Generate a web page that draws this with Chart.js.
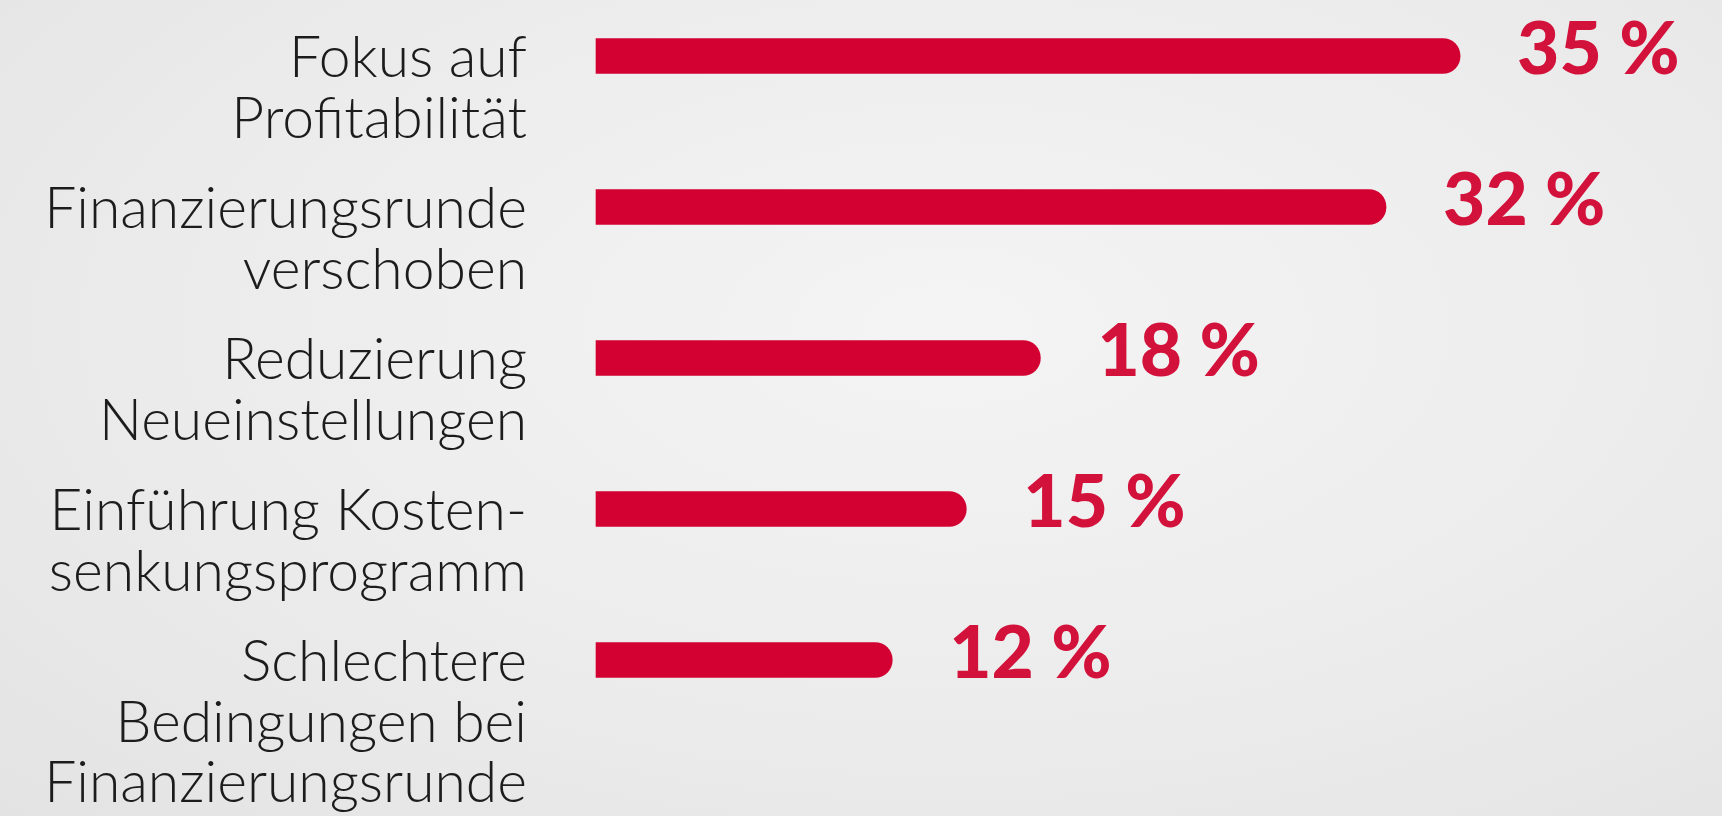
<!DOCTYPE html>
<html>
<head>
<meta charset="utf-8">
<script src="https://cdn.jsdelivr.net/npm/chart.js@4.4.0/dist/chart.umd.min.js"></script>
<style>
  html, body { margin: 0; padding: 0; }
  body {
    width: 1722px; height: 816px; overflow: hidden;
    background: radial-gradient(ellipse at 55% 40%, #f4f4f4 0%, #ececec 55%, #e3e3e3 100%);
  }
  #wrap { position: relative; width: 1722px; height: 816px; }
</style>
</head>
<body>
<div id="wrap"><canvas id="chart"></canvas></div>
<script>
// categories (one entry per line of the label)
const categories = [
  ["Fokus auf", "Profitabilität"],
  ["Finanzierungsrunde", "verschoben"],
  ["Reduzierung", "Neueinstellungen"],
  ["Einführung Kosten-", "senkungsprogramm"],
  ["Schlechtere", "Bedingungen bei", "Finanzierungsrunde"]
];
const values = [35, 32, 18, 15, 12];
const valueLabels = ["35 %", "32 %", "18 %", "15 %", "12 %"];

const red = "#d30032";

// writes "35 %" etc. to the right of each bar
const valueLabelPlugin = {
  id: "valueLabels",
  afterDatasetsDraw(chart) {
    const ctx = chart.ctx;
    const meta = chart.getDatasetMeta(0);
    ctx.save();
    ctx.fillStyle = "#d3123c";
    ctx.font = "900 73px Lato";
    ctx.textAlign = "left";
    ctx.textBaseline = "alphabetic";
    meta.data.forEach((bar, i) => {
      ctx.fillText(valueLabels[i], bar.x + 57, bar.y + 18);
    });
    ctx.restore();
  }
};

const ctx = document.getElementById("chart").getContext("2d");
new Chart(ctx, {
  type: "bar",
  data: {
    labels: categories,
    datasets: [{
      data: values,
      backgroundColor: red,
      barThickness: 35,
      borderRadius: 17.5,
      borderSkipped: "start",
      clip: false
    }]
  },
  options: {
    indexAxis: "y",
    responsive: true,
    maintainAspectRatio: false,
    animation: false,
    layout: { padding: { top: 56, bottom: 156, left: 0, right: 15 } },
    plugins: {
      legend: { display: false },
      tooltip: { enabled: false }
    },
    scales: {
      x: { display: false, min: 0, max: 45 },
      y: {
        offset: false,
        grid: { display: false, drawTicks: false },
        border: { display: false },
        ticks: {
          autoSkip: false,
          padding: 69,
          labelOffset: 3,
          color: "#1c1c1c",
          font: { family: "Lato", weight: 300, size: 57, lineHeight: 1.06 },
          // pad with empty lines so the first line sits on the bar
          callback: function (value, index) {
            const lines = categories[index];
            return Array(lines.length - 1).fill("").concat(lines);
          }
        },
        afterFit: function (scale) {
          scale.width = 596;
          scale.paddingTop = 0;
          scale.paddingBottom = 0;
        }
      }
    }
  },
  plugins: [valueLabelPlugin]
});
</script>
</body>
</html>
